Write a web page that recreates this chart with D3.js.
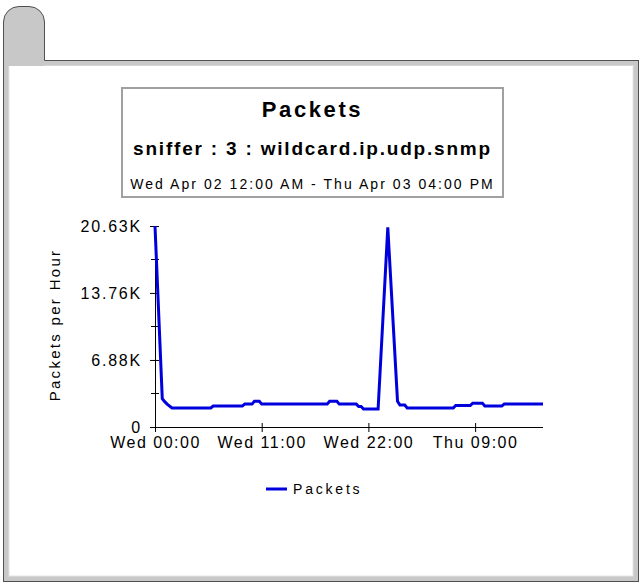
<!DOCTYPE html>
<html>
<head>
<meta charset="utf-8">
<script src="https://cdn.jsdelivr.net/npm/d3@7"></script>
<style>
  body { margin: 0; background: #fff; }
  text { font-family: "Liberation Sans", Arial, sans-serif; }
</style>
</head>
<body>
<svg></svg>
<script>
// Chart data, hours since Wed Apr 02 00:00
const hours   = [0, 0.75, 1, 1.25, 1.75, 5.75, 6, 9, 9.25, 10, 10.25, 10.75, 11, 17.75, 18, 18.75, 19, 20.75, 21, 21.25, 21.5, 23, 24, 25, 25.25, 25.75, 26, 30.75, 31, 32.5, 32.75, 33.75, 34, 35.75, 36, 40];
const packets = [20630, 2900, 2600, 2350, 1950, 1950, 2150, 2150, 2350, 2350, 2650, 2650, 2350, 2350, 2650, 2650, 2350, 2350, 2100, 2100, 1850, 1850, 20500, 2650, 2250, 2250, 1950, 1950, 2200, 2200, 2450, 2450, 2150, 2150, 2350, 2350];

const yTicks = [0, 6880, 13760, 20630];
const yTickLabels = ["0", "6.88K", "13.76K", "20.63K"];
const xTicks = [0, 11, 22, 33];
const xTickLabels = ["Wed 00:00", "Wed 11:00", "Wed 22:00", "Thu 09:00"];

const titleText = "Packets";
const subtitleText = "sniffer : 3 : wildcard.ip.udp.snmp";
const rangeText = "Wed Apr 02 12:00 AM - Thu Apr 03 04:00 PM";
const yTitle = "Packets per Hour";
const seriesName = "Packets";

const width = 641, height = 584;
const svg = d3.select("svg").attr("width", width).attr("height", height);

// Frame with the folder tab
svg.append("rect")
    .attr("x", 3.5).attr("y", 60.5).attr("width", 635).attr("height", 521)
    .attr("fill", "#c8c8c8").attr("stroke", "#505050");
svg.append("rect")
    .attr("x", 9).attr("y", 66).attr("width", 624).attr("height", 510)
    .attr("fill", "#fff").attr("stroke", "#e4e4e4");
svg.append("path")
    .attr("d", "M3.5,66 V22 A15.5,15.5 0 0 1 19,6.5 H29 A15.5,15.5 0 0 1 44.5,22 V66 Z")
    .attr("fill", "#c8c8c8");
svg.append("path")
    .attr("d", "M3.5,66 V22 A15.5,15.5 0 0 1 19,6.5 H29 A15.5,15.5 0 0 1 44.5,22 V60.5")
    .attr("fill", "none").attr("stroke", "#505050");
svg.append("rect")
    .attr("x", 9).attr("y", 66).attr("width", 624).attr("height", 1).attr("fill", "#fff");

// Title box
svg.append("rect")
    .attr("x", 122).attr("y", 88).attr("width", 381).attr("height", 109)
    .attr("fill", "#fff").attr("stroke", "#a0a0a0").attr("stroke-width", 2);
const cx = 312.5;
svg.append("text").attr("x", cx).attr("y", 117).attr("text-anchor", "middle")
    .attr("font-size", 22).attr("font-weight", "bold").attr("letter-spacing", 2.6)
    .text(titleText);
svg.append("text").attr("x", cx).attr("y", 155).attr("text-anchor", "middle")
    .attr("font-size", 19).attr("font-weight", "bold").attr("letter-spacing", 1.8)
    .text(subtitleText);
svg.append("text").attr("x", cx).attr("y", 189).attr("text-anchor", "middle")
    .attr("font-size", 14).attr("letter-spacing", 2.05)
    .text(rangeText);

// Scales
const x = d3.scaleLinear().domain([0, 40]).range([155, 543]);
const y = d3.scaleLinear().domain([0, 20630]).range([427, 226]);

// Y axis
const yAxis = svg.append("g").attr("transform", "translate(155,0)")
    .call(d3.axisLeft(y).tickValues(yTicks).tickSize(5).tickPadding(8)
        .tickFormat((d, i) => yTickLabels[i]));
yAxis.select(".domain").attr("d", `M0.5,${y(20630)}V${y(0)}`);
yAxis.selectAll(".tick line").attr("x1", 4);
yAxis.selectAll(".tick text").attr("font-size", 16).attr("letter-spacing", 1.8)
    .attr("font-family", "Liberation Sans, Arial, sans-serif");

// minor y ticks halfway between labels
const minor = d3.pairs(yTicks).map(p => (p[0] + p[1]) / 2);
svg.append("g").selectAll("line").data(minor).join("line")
    .attr("x1", 151).attr("x2", 159)
    .attr("y1", d => Math.round(y(d)) + 0.5).attr("y2", d => Math.round(y(d)) + 0.5)
    .attr("stroke", "#000");

// X axis
const xAxis = svg.append("g").attr("transform", "translate(0,427)")
    .call(d3.axisBottom(x).tickValues(xTicks).tickSize(5).tickPadding(5)
        .tickFormat((d, i) => xTickLabels[i]));
xAxis.select(".domain").attr("d", `M${x(0)},0.5H${x(40)}`);
xAxis.selectAll(".tick line").attr("y1", -4);
xAxis.selectAll(".tick text").attr("font-size", 16).attr("letter-spacing", 1.5)
    .attr("font-family", "Liberation Sans, Arial, sans-serif");

// Y title
svg.append("text")
    .attr("transform", "translate(60,325) rotate(-90)")
    .attr("text-anchor", "middle").attr("font-size", 15).attr("letter-spacing", 2.3)
    .text(yTitle);

// Series line
const line = d3.line().x((d, i) => x(hours[i])).y(d => y(d));
svg.append("path")
    .datum(packets)
    .attr("d", line)
    .attr("fill", "none").attr("stroke", "#0000dd").attr("stroke-width", 3)
    .attr("stroke-linejoin", "miter");

// Legend
svg.append("line").attr("x1", 266).attr("x2", 287).attr("y1", 489).attr("y2", 489)
    .attr("stroke", "#0000dd").attr("stroke-width", 3);
svg.append("text").attr("x", 293).attr("y", 494)
    .attr("font-size", 14).attr("letter-spacing", 2.8)
    .text(seriesName);
</script>
</body>
</html>
